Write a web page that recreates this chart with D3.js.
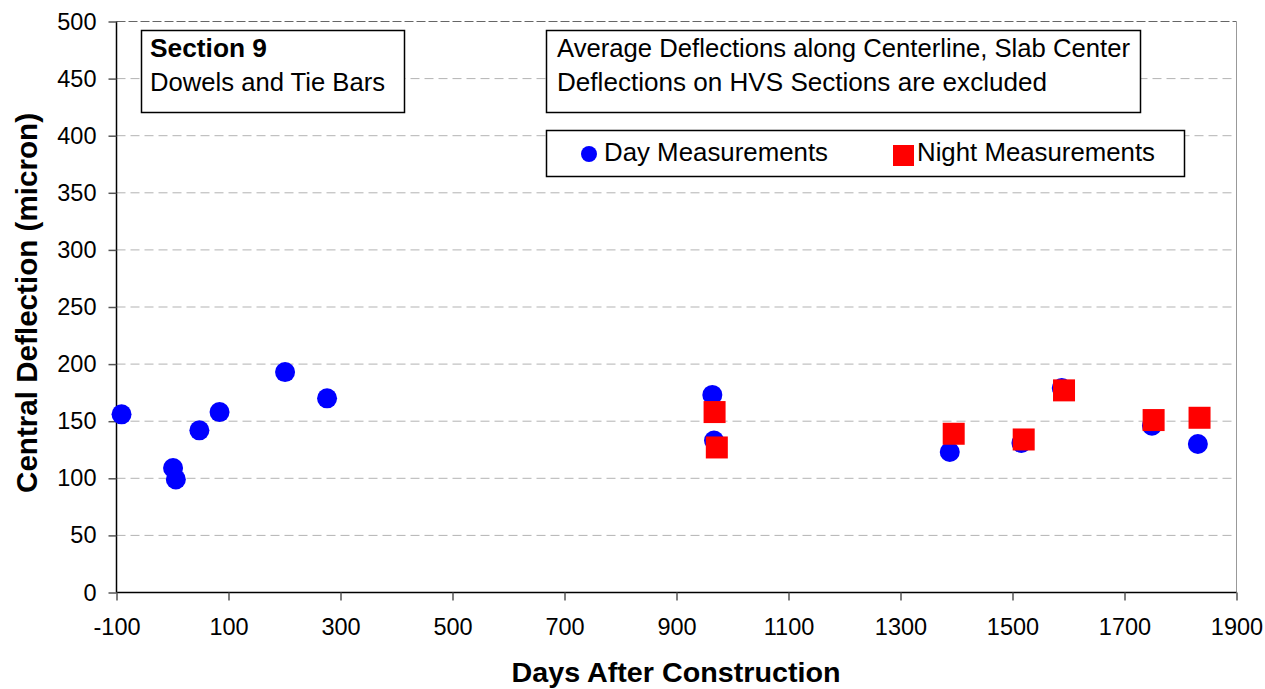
<!DOCTYPE html>
<html>
<head>
<meta charset="utf-8">
<script src="https://cdn.jsdelivr.net/npm/d3@7"></script>
<style>
  body { margin: 0; background: #fff; }
  text { font-family: Arial, "Liberation Sans", sans-serif; }
</style>
</head>
<body>
<svg id="chart" width="1265" height="689"></svg>
<script>
// day measurements
var dayDays = [-91, 1, 6, 48, 84, 201, 276, 964, 967, 1388, 1516, 1588, 1749, 1831];
var dayDefl = [156, 109, 99, 142, 158, 193, 170, 173, 133, 123, 131, 179, 146, 130];
// night measurements
var nightDays = [968, 972, 1395, 1520, 1592, 1752, 1834];
var nightDefl = [158, 127, 139, 134, 177, 151, 153];

var xTicks = [-100, 100, 300, 500, 700, 900, 1100, 1300, 1500, 1700, 1900];
var yTicks = [0, 50, 100, 150, 200, 250, 300, 350, 400, 450, 500];

var svg = d3.select("#chart");
var plotL = 116.5, plotR = 1236.5, plotT = 21.5, plotB = 592.5;

var x = d3.scaleLinear().domain([-100, 1900]).range([plotL, plotR]);
var y = d3.scaleLinear().domain([0, 500]).range([plotB, plotT]);

// gridlines
svg.append("g").selectAll("line")
  .data(yTicks.filter(function(d) { return d > 0 && d < 500; }))
  .enter().append("line")
    .attr("x1", plotL).attr("x2", plotR)
    .attr("y1", function(d) { return y(d); })
    .attr("y2", function(d) { return y(d); })
    .attr("stroke", "#b3b3b3")
    .attr("stroke-width", 1)
    .attr("stroke-dasharray", "9,5");

// top and right border
svg.append("line")
  .attr("x1", plotL).attr("x2", plotR).attr("y1", plotT).attr("y2", plotT)
  .attr("stroke", "#666").attr("stroke-dasharray", "9,3");
svg.append("line")
  .attr("x1", plotR).attr("x2", plotR).attr("y1", plotT).attr("y2", plotB)
  .attr("stroke", "#999");

// axes
var yAxis = d3.axisLeft(y).tickValues(yTicks).tickSize(8).tickPadding(12);
var gy = svg.append("g").attr("transform", "translate(" + plotL + ",0)").call(yAxis);
var xAxis = d3.axisBottom(x).tickValues(xTicks).tickSize(8).tickPadding(18)
  .tickFormat(function(d) { return String(d); });
var gx = svg.append("g").attr("transform", "translate(0," + plotB + ")").call(xAxis);

[gx, gy].forEach(function(g) {
  g.select(".domain").attr("stroke", "#000").attr("stroke-width", 1.5);
  g.selectAll(".tick line").attr("stroke", "#555").attr("stroke-width", 1.5);
  g.selectAll(".tick text").attr("font-size", 23.5).attr("fill", "#000")
    .style("font-family", "Arial, 'Liberation Sans', sans-serif");
});
gy.select(".domain").attr("d", "M0," + plotT + "V" + plotB);
gx.select(".domain").attr("d", "M" + plotL + ",0H" + plotR);

// axis titles
svg.append("text")
  .attr("x", 676).attr("y", 682)
  .attr("text-anchor", "middle")
  .attr("font-size", 28).attr("font-weight", "bold")
  .attr("textLength", 329).attr("lengthAdjust", "spacingAndGlyphs")
  .text("Days After Construction");
svg.append("text")
  .attr("transform", "translate(37,303) rotate(-90)")
  .attr("text-anchor", "middle")
  .attr("font-size", 29).attr("font-weight", "bold")
  .attr("textLength", 380).attr("lengthAdjust", "spacingAndGlyphs")
  .text("Central Deflection (micron)");

// points
var dayData = dayDays.map(function(d, i) { return [d, dayDefl[i]]; });
var nightData = nightDays.map(function(d, i) { return [d, nightDefl[i]]; });

svg.append("g").selectAll("circle")
  .data(dayData).enter().append("circle")
    .attr("cx", function(d) { return x(d[0]); })
    .attr("cy", function(d) { return y(d[1]); })
    .attr("r", 10)
    .attr("fill", "#0000ff");

svg.append("g").selectAll("rect")
  .data(nightData).enter().append("rect")
    .attr("x", function(d) { return x(d[0]) - 11; })
    .attr("y", function(d) { return y(d[1]) - 11; })
    .attr("width", 22).attr("height", 22)
    .attr("fill", "#ff0000");

// text boxes
function box(x0, y0, w, h) {
  svg.append("rect").attr("x", x0).attr("y", y0).attr("width", w).attr("height", h)
    .attr("fill", "#fff").attr("stroke", "#000").attr("stroke-width", 1.5);
}
function label(tx, ty, str, len, bold) {
  svg.append("text").attr("x", tx).attr("y", ty).attr("font-size", 25.5)
    .attr("font-weight", bold ? "bold" : "normal")
    .attr("textLength", len).attr("lengthAdjust", "spacingAndGlyphs")
    .text(str);
}
box(141.5, 30.5, 263, 82);
label(150, 57, "Section 9", 117, true);
label(150, 91, "Dowels and Tie Bars", 235);

box(546.5, 30.5, 594, 82);
label(557, 57, "Average Deflections along Centerline, Slab Center", 573);
label(557, 91, "Deflections on HVS Sections are excluded", 490);

// legend
box(546.5, 130.5, 638, 46);
svg.append("circle").attr("cx", 589).attr("cy", 154).attr("r", 8).attr("fill", "#0000ff");
label(604, 161, "Day Measurements", 224);
svg.append("rect").attr("x", 893).attr("y", 145).attr("width", 21).attr("height", 21)
  .attr("fill", "#ff0000");
label(917, 161, "Night Measurements", 238);
</script>
</body>
</html>
